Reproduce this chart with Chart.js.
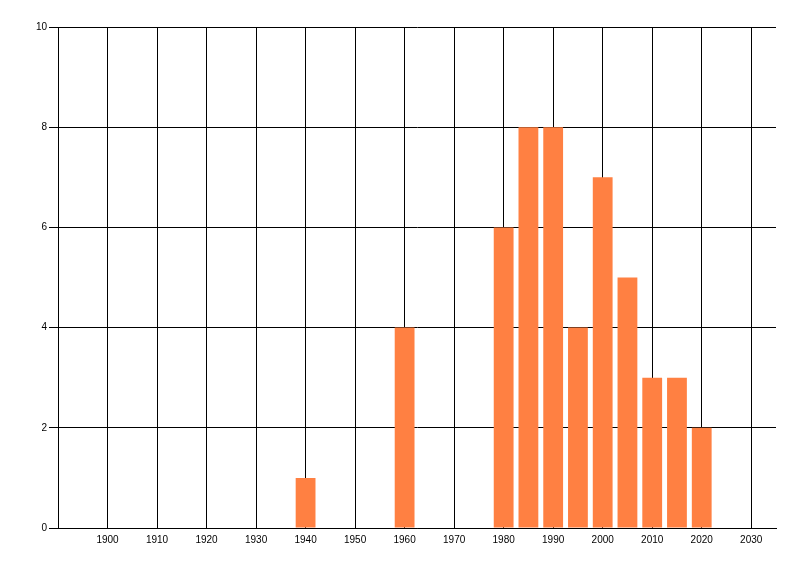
<!DOCTYPE html>
<html>
<head>
<meta charset="utf-8">
<script src="https://cdn.jsdelivr.net/npm/chart.js@4"></script>
<style>
  html, body { margin: 0; padding: 0; background: #fff; }
  canvas { display: block; }
</style>
</head>
<body>
<canvas id="chart" width="800" height="576"></canvas>
<script>
const years = [1940, 1960, 1980, 1985, 1990, 1995, 2000, 2005, 2010, 2015, 2020];
const counts = [1, 4, 6, 8, 8, 4, 7, 5, 3, 3, 2];
const xTicks = [1900, 1910, 1920, 1930, 1940, 1950, 1960, 1970, 1980, 1990, 2000, 2010, 2020, 2030];
const yTicks = [0, 2, 4, 6, 8, 10];

window.addEventListener("load", onLoad);

function onLoad() {
  createChart();
}

function points() {
  return years.map((y, i) => ({ x: y, y: counts[i] }));
}

function createChart() {
  const font = { family: "Liberation Sans", size: 10 };
  return new Chart(document.getElementById("chart").getContext("2d"), {
    type: "bar",
    data: {
      datasets: [
        {
          data: points(),
          backgroundColor: "#ff8042",
          borderWidth: 0,
          barPercentage: 1,
          categoryPercentage: 0.8,
        },
      ],
    },
    options: {
      responsive: false,
      animation: false,
      devicePixelRatio: 1,
      layout: { padding: { top: 27, right: 24, left: 0, bottom: 0 } },
      plugins: { legend: { display: false }, tooltip: { enabled: false } },
      scales: {
        x: {
          type: "linear",
          min: 1890,
          max: 2035,
          offset: false,
          afterBuildTicks: (axis) => {
            axis.ticks = xTicks.map((v) => ({ value: v }));
          },
          afterFit: (axis) => {
            axis.height = 48;
          },
          grid: { color: "#000", lineWidth: 1, drawTicks: false, offset: false },
          border: { color: "#000", width: 1 },
          ticks: {
            color: "#000",
            font,
            padding: 6,
            maxRotation: 0,
            autoSkip: false,
            callback: (v) => String(v),
          },
        },
        y: {
          min: 0,
          max: 10,
          afterBuildTicks: (axis) => {
            axis.ticks = yTicks.map((v) => ({ value: v }));
          },
          afterFit: (axis) => {
            axis.width = 58;
          },
          grid: { color: "#000", lineWidth: 1, tickLength: 9 },
          border: { color: "#000", width: 1 },
          ticks: { color: "#000", font, padding: 2 },
        },
      },
    },
  });
}
</script>
</body>
</html>
